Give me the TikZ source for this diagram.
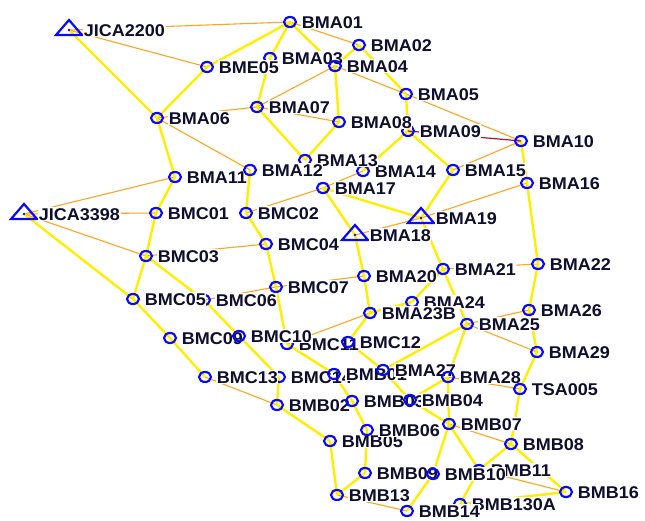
\documentclass[tikz,border=0pt]{standalone}
\usepackage{fontspec}
\newfontfamily\tagfont[FakeStretch=1.06]{Liberation Sans}
\usetikzlibrary{calc}

\definecolor{legyellow}{RGB}{255,238,0}
\definecolor{legorange}{RGB}{255,165,30}
\definecolor{legred}{RGB}{170,20,50}
\definecolor{stnblue}{RGB}{10,10,250}
\definecolor{tagink}{RGB}{15,15,45}

\begin{document}
\begin{tikzpicture}[x=1pt, y=-1pt,
  main/.style={legyellow, line width=2.4pt},
  side/.style={legorange, line width=1.1pt},
  stn/.style={stnblue, line width=2.2pt},
  tag/.style={anchor=west, xshift=11pt, fill=white, inner sep=0.6pt,
    text=tagink, font=\tagfont\bfseries\fontsize{17}{17}\selectfont,
    text height=12.2pt, text depth=0pt}]

% Marker size
\newcommand{\stnrx}{6}
\newcommand{\stnry}{5}
\newcommand{\tribase}{13}
\newcommand{\trihigh}{10}

\useasboundingbox (0,0) rectangle (645,521);

% Control points
\coordinate (JICA2200) at (69,30);
\coordinate (JICA3398) at (24,214);
\coordinate (BMA18) at (355,235);
\coordinate (BMA19) at (421,218);
% Upper block
\coordinate (BMA01) at (290,22);
\coordinate (BMA02) at (359,45);
\coordinate (BMA03) at (270,58);
\coordinate (BMA04) at (335,66);
\coordinate (BME05) at (207,67);
\coordinate (BMA05) at (406,94);
\coordinate (BMA06) at (157,118);
\coordinate (BMA07) at (257,107);
\coordinate (BMA08) at (339,122);
\coordinate (BMA09) at (408,131);
\coordinate (BMA10) at (521,141);
\coordinate (BMA11) at (175,177);
\coordinate (BMA12) at (250,170);
\coordinate (BMA13) at (305,160);
\coordinate (BMA14) at (363,171);
\coordinate (BMA15) at (453,170);
\coordinate (BMA16) at (527,183);
\coordinate (BMA17) at (323,188);
% Middle block
\coordinate (BMC01) at (156,213);
\coordinate (BMC02) at (246,213);
\coordinate (BMC03) at (146,256);
\coordinate (BMC04) at (266,244);
\coordinate (BMA20) at (364,276);
\coordinate (BMA21) at (443,269);
\coordinate (BMA22) at (538,264);
\coordinate (BMC05) at (133,299);
\coordinate (BMC06) at (204,300);
\coordinate (BMC07) at (276,287);
\coordinate (BMA24) at (412,302);
\coordinate (BMA23B) at (370,313);
\coordinate (BMA25) at (467,324);
\coordinate (BMA26) at (529,310);
\coordinate (BMC09) at (170,338);
\coordinate (BMC10) at (239,336);
\coordinate (BMC11) at (287,344);
\coordinate (BMC12) at (348,342);
\coordinate (BMA29) at (537,352);
\coordinate (BMA27) at (383,370);
\coordinate (BMA28) at (448,377);
\coordinate (TSA005) at (520,389);
\coordinate (BMC13) at (205,377);
\coordinate (BMC14) at (279,377);
% Lower block
\coordinate (BMB01) at (334,374);
\coordinate (BMB02) at (277,405);
\coordinate (BMB03) at (352,401);
\coordinate (BMB04) at (410,400);
\coordinate (BMB05) at (330,441);
\coordinate (BMB06) at (367,430);
\coordinate (BMB07) at (449,424);
\coordinate (BMB08) at (511,444);
\coordinate (BMB09) at (365,473);
\coordinate (BMB10) at (433,474);
\coordinate (BMB11) at (479,470);
\coordinate (BMB13) at (337,495);
\coordinate (BMB14) at (407,511);
\coordinate (BMB130A) at (460,504);
\coordinate (BMB16) at (566,492);

% Thin legs
\foreach \a/\b in {JICA2200/BMA01, JICA2200/BME05, BMA01/BMA02, BMA04/BMA05,
    BMA05/BMA10, BMA04/BMA07, BMA06/BMA07, BMA06/BMA12, BMA07/BMA08,
    BMA10/BMA15, BMA14/BMA17, BMC02/BMA17, BMA11/JICA3398, JICA3398/BMC01,
    JICA3398/BMC03, BMC03/BMC04, BMC06/BMC07, BMA18/BMA19, BMA16/BMA19,
    BMA21/BMA22, BMA20/BMC07, BMA23B/BMC11, BMA25/BMA26, BMA25/BMA29,
    TSA005/BMA28, BMB13/BMB14, BMB07/BMB08, BMB11/BMB16, BMC13/BMB02}
  \draw[side] (\a) -- (\b);

% Main legs
\foreach \a/\b in {JICA2200/BMA06, BMA01/BME05, BMA01/BMA03, BMA01/BMA04,
    BMA02/BMA04, BMA02/BMA05, BME05/BMA06, BMA03/BMA07, BMA06/BMA11,
    BMA07/BMA13, BMA04/BMA08, BMA08/BMA13, BMA05/BMA09, BMA09/BMA14,
    BMA09/BMA15, BMA10/BMA16, BMA12/BMC02, BMA11/BMC01, JICA3398/BMC05,
    BMC01/BMC03, BMC03/BMC05, BMC03/BMC06, BMC06/BMC10, BMC05/BMC09,
    BMC02/BMC04, BMC04/BMC07, BMC07/BMC11, BMA17/BMA18, BMA17/BMA19,
    BMA15/BMA19, BMA16/BMA22, BMA19/BMA21, BMA21/BMA25, BMA18/BMA20,
    BMA20/BMA23B, BMA21/BMA24, BMA23B/BMA24, BMA23B/BMC12, BMC12/BMA27,
    BMA22/BMA26, BMA26/BMA29, BMA29/TSA005, TSA005/BMB08, BMA25/BMA27,
    BMA25/BMA28, BMA28/BMB07, BMA28/BMB04, BMA27/BMB04, BMB01/BMB03,
    BMB03/BMB06, BMB04/BMB07, BMB02/BMB05, BMB05/BMB13, BMB06/BMB09,
    BMB09/BMB13, BMB07/BMB10, BMB10/BMB14, BMB07/BMB11, BMB08/BMB11,
    BMB11/BMB130A, BMB08/BMB16, BMB130A/BMB16, BMC14/BMB02, BMC09/BMC13,
    BMC10/BMC14, BMC11/BMB01}
  \draw[main] (\a) -- (\b);

\draw[legred, line width=1.2pt] (BMA09) -- (BMA10);

% Stations, back ones first
\foreach \s in {BMA03, BMA14, BMA13, BMA09, BMC11, BMC14, BMC06, BMB130A, BMB11,
    BMA01, BMA02, BMA04, BME05, BMA05, BMA06, BMA07, BMA08, BMA10, BMA11,
    BMA12, BMA15, BMA16, BMA17, BMC01, BMC02, BMC03, BMC04, BMA20, BMA21,
    BMA22, BMC05, BMC07, BMA24, BMA23B, BMA25, BMA26, BMC09, BMC10, BMC12,
    BMA29, BMB01, BMA27, BMA28, TSA005, BMC13, BMB02, BMB03, BMB04, BMB05,
    BMB06, BMB07, BMB08, BMB09, BMB10, BMB13, BMB14, BMB16} {
  \draw[stn] (\s) ellipse (\stnrx pt and \stnry pt);
  \node[tag] at (\s) {\s};
}

% Triangles
\foreach \s in {JICA2200, JICA3398, BMA18, BMA19} {
  \draw[stn, line join=miter] ($(\s)+(-\tribase,5)$) -- ($(\s)+(\tribase,5)$)
    -- ($(\s)+(0,-\trihigh)$) -- cycle;
  \fill[stnblue] (\s) circle (1.3);
  \node[tag, xshift=3pt] at (\s) {\s};
}

\end{tikzpicture}
\end{document}
